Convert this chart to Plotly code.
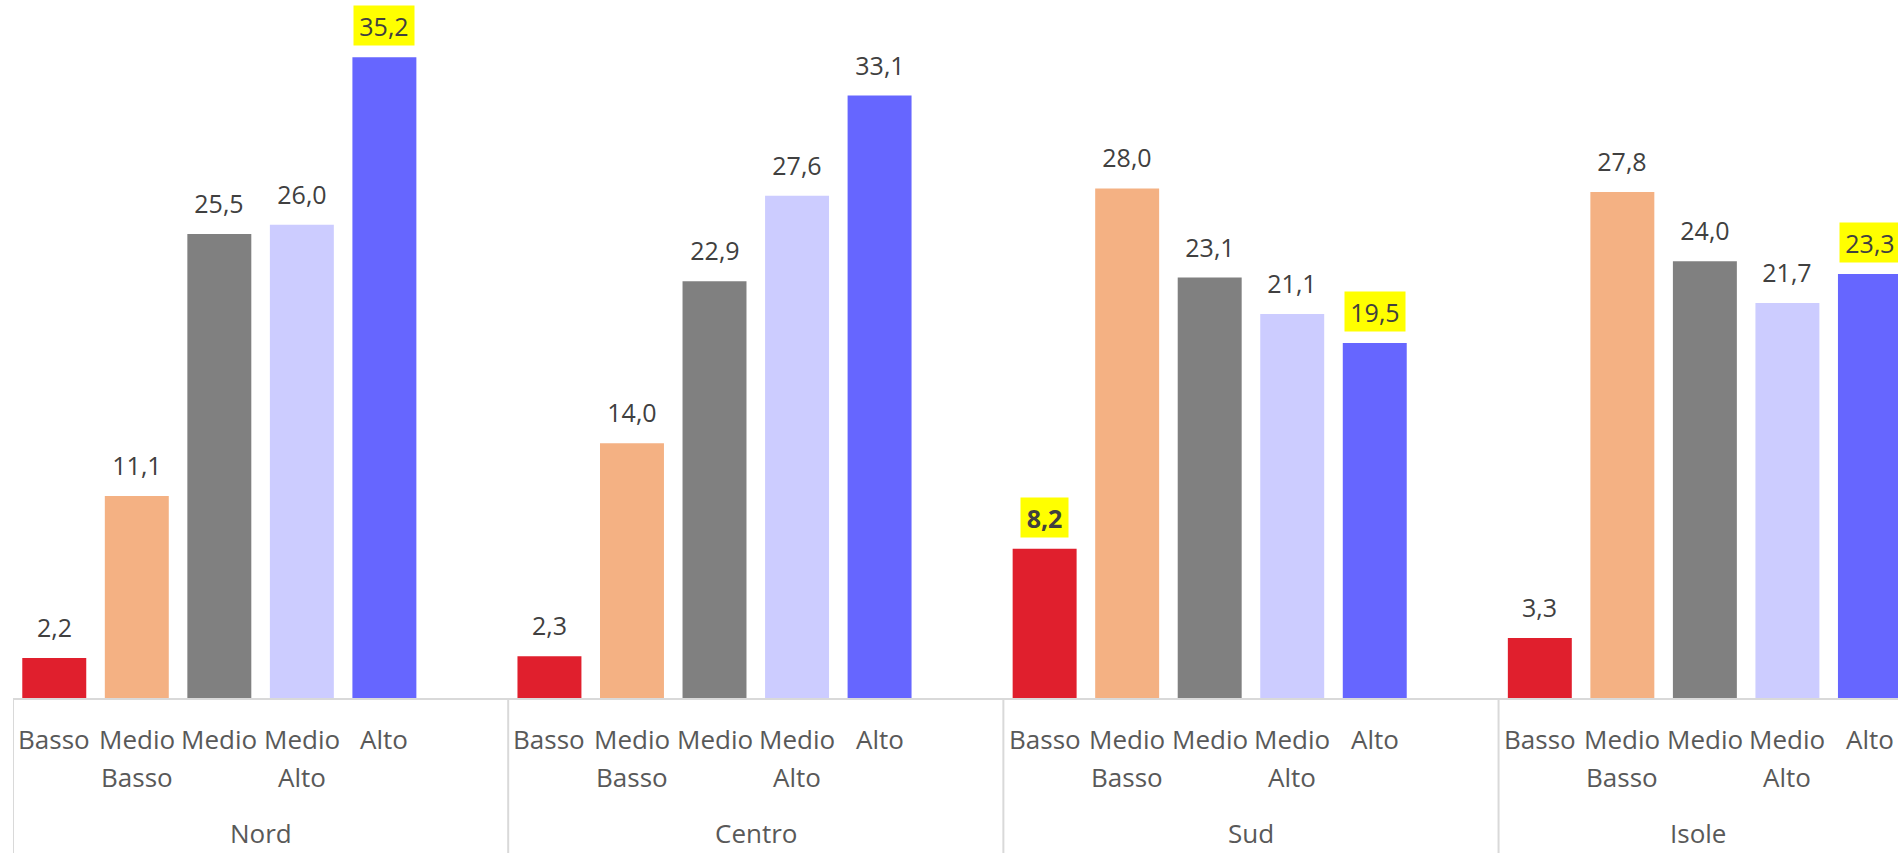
import plotly.graph_objects as go

# Regions (outer category level) and income levels (inner level)
regions = ["Nord", "Centro", "Sud", "Isole"]
levels = ["Basso", "Medio Basso", "Medio", "Medio Alto", "Alto"]
level_colors = ["#E01F2D", "#F4B183", "#808080", "#CCCCFF", "#6666FF"]

# Percentages per region, one value per level
nord = [2.2, 11.1, 25.5, 26.0, 35.2]
centro = [2.3, 14.0, 22.9, 27.6, 33.1]
sud = [8.2, 28.0, 23.1, 21.1, 19.5]
isole = [3.3, 27.8, 24.0, 21.7, 23.3]
values = [nord, centro, sud, isole]

# Labels shown on a yellow background, and the one shown in bold
highlighted = [("Nord", "Alto"), ("Sud", "Basso"), ("Sud", "Alto"), ("Isole", "Alto")]
bold_labels = [("Sud", "Basso")]

SLOTS = 6          # five levels plus one empty slot closing each group
X_MIN, X_MAX = -0.5, 22.34
Y_MAX = 38.35

FONT = "Open Sans"
LABEL_COLOR = "#404040"
AXIS_TEXT = "#595959"
GRID = "#D9D9D9"


def fmt(v):
    return f"{v:.1f}".replace(".", ",")


fig = go.Figure()
annotations = []
shapes = []

for i, (lvl, col) in enumerate(zip(levels, level_colors)):
    xs = [g * SLOTS + i for g in range(len(regions))]
    ys = [values[g][i] for g in range(len(regions))]
    fig.add_trace(go.Bar(x=xs, y=ys, name=lvl, marker=dict(color=col, line=dict(width=0)),
                         width=0.775, showlegend=False, hoverinfo="skip"))

# value labels above bars
for g, reg in enumerate(regions):
    for i, lvl in enumerate(levels):
        v = values[g][i]
        txt = fmt(v)
        hl = (reg, lvl) in highlighted
        bold = (reg, lvl) in bold_labels
        annotations.append(dict(
            x=g * SLOTS + i, y=v, xref="x", yref="y",
            text=f"<b>{txt}</b>" if bold else txt,
            showarrow=False, yanchor="bottom", xanchor="center", yshift=11,
            font=dict(family=FONT, size=25, color=LABEL_COLOR),
            bgcolor="#FFFF00" if hl else "rgba(0,0,0,0)",
            borderpad=4, height=31, width=13 * len(txt),
        ))

# inner category labels (two rows)
for g, reg in enumerate(regions):
    for i, lvl in enumerate(levels):
        words = lvl.split(" ")
        for r, w in enumerate(words):
            annotations.append(dict(
                x=g * SLOTS + i, y=0, xref="x", yref="paper",
                text=w, showarrow=False, xanchor="center", yanchor="middle",
                yshift=-41 - 38 * r,
                font=dict(family=FONT, size=26, color=AXIS_TEXT),
            ))

# outer category labels, centred on the visible part of each group
for g, reg in enumerate(regions):
    lo = g * SLOTS - 0.5
    hi = min(lo + SLOTS, X_MAX)
    annotations.append(dict(
        x=(lo + hi) / 2, y=0, xref="x", yref="paper",
        text=reg, showarrow=False, xanchor="center", yanchor="middle",
        yshift=-135,
        font=dict(family=FONT, size=26, color=AXIS_TEXT),
    ))

# group separators
bottom_margin = 155
plot_h = 853 - bottom_margin
for g in range(len(regions)):
    xb = g * SLOTS - 0.5
    shapes.append(dict(type="line", xref="x", yref="paper", x0=xb, x1=xb,
                       y0=0, y1=-bottom_margin / plot_h,
                       line=dict(color=GRID, width=2)))

fig.update_layout(
    width=1898, height=853, autosize=False,
    margin=dict(l=13, r=0, t=0, b=bottom_margin, pad=0),
    paper_bgcolor="white", plot_bgcolor="white",
    barmode="overlay",
    xaxis=dict(range=[X_MIN, X_MAX], showticklabels=False, ticks="", showgrid=False,
               zeroline=False, showline=True, linecolor=GRID, linewidth=2),
    yaxis=dict(range=[0, Y_MAX], visible=False, showgrid=False, zeroline=False),
    annotations=annotations,
    shapes=shapes,
)

fig.write_html("out.html")
